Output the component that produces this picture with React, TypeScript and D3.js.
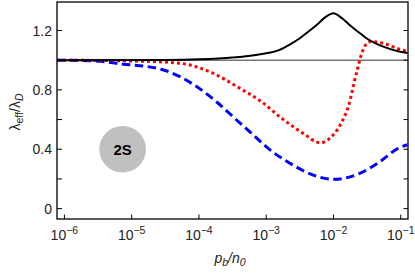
import * as d3 from "d3";

// exponents (log10 of p_b/n_0) and values
const blueExp = [-6.11, -5.65, -5.15, -4.55, -4.03, -3.74, -3.44, -3.19, -2.97, -2.6, -2.3, -2.0, -1.61, -1.31, -1.04, -0.9];
const blueVal = [1.0, 0.997, 0.975, 0.937, 0.821, 0.72, 0.597, 0.496, 0.406, 0.293, 0.226, 0.197, 0.237, 0.316, 0.406, 0.43];

const redExp = [-6.11, -5.0, -4.28, -3.79, -3.39, -3.07, -2.8, -2.45, -2.2, -2.03, -1.88, -1.78, -1.66, -1.56, -1.46, -1.26, -1.01, -0.9];
const redVal = [1.0, 0.995, 0.979, 0.912, 0.81, 0.72, 0.619, 0.507, 0.444, 0.484, 0.58, 0.686, 0.91, 1.069, 1.125, 1.114, 1.073, 1.06];

const blackExp = [-6.11, -4.5, -4.0, -3.5, -3.3, -3.09, -2.8, -2.65, -2.5, -2.38, -2.25, -2.12, -2.0, -1.88, -1.76, -1.63, -1.51, -1.38, -1.26, -1.01, -0.9];
const blackVal = [1.0, 1.002, 1.006, 1.018, 1.027, 1.04, 1.069, 1.105, 1.148, 1.19, 1.237, 1.29, 1.316, 1.285, 1.237, 1.19, 1.148, 1.115, 1.091, 1.057, 1.048];

const xTickExp = [-6, -5, -4, -3, -2, -1];
const yMajor = [0, 0.4, 0.8, 1.2];
const yMinor = [0.2, 0.6, 1.0];
const yTickLabels = ["0", "0.4", "0.8", "1.2"];

const label = { text: "2S", exp: -5.134, val: 0.4 };

const width = 415;
const height = 274;
const left = 57;
const right = 408;
const top = 2;
const bottom = 219;
const font = "'Liberation Sans', Arial, sans-serif";

export default function App() {
  const x = d3
    .scaleLog()
    .domain([Math.pow(10, -6.11), Math.pow(10, -0.892)])
    .range([left, right]);
  const y = d3.scaleLinear().domain([-0.07, 1.392]).range([bottom, top]);

  const line = d3
    .line<[number, number]>()
    .x((d) => x(Math.pow(10, d[0])))
    .y((d) => y(d[1]))
    .curve(d3.curveMonotoneX);

  const zip = (a: number[], b: number[]) => a.map((e, i) => [e, b[i]] as [number, number]);

  return (
    <svg
      width={width}
      height={height}
      style={{ position: "absolute", left: 0, top: 0, background: "#fff" }}
      fontFamily={font}
    >
      <defs>
        <clipPath id="plot">
          <rect x={left} y={top} width={right - left} height={bottom - top} />
        </clipPath>
      </defs>

      {/* reference line at 1 */}
      <line x1={left} x2={right} y1={y(1)} y2={y(1)} stroke="#333" strokeWidth={1} />

      <g clipPath="url(#plot)" fill="none">
        <path d={line(zip(blueExp, blueVal)) || ""} stroke="#0000ff" strokeWidth={3} strokeDasharray="8.5,4.5" />
        <path d={line(zip(redExp, redVal)) || ""} stroke="#ff0000" strokeWidth={3} strokeDasharray="3,3" />
        <path d={line(zip(blackExp, blackVal)) || ""} stroke="#000" strokeWidth={2} />
      </g>

      {/* annotation */}
      <circle cx={x(Math.pow(10, label.exp))} cy={y(label.val)} r={23.3} fill="#c0c0c0" />
      <text
        x={x(Math.pow(10, label.exp))}
        y={y(label.val)}
        dy="0.36em"
        textAnchor="middle"
        fontSize={15}
        fontWeight="bold"
      >
        {label.text}
      </text>

      {/* frame */}
      <rect x={left} y={top} width={right - left} height={bottom - top} fill="none" stroke="#000" strokeWidth={1.3} />

      {/* y ticks */}
      {yMajor.concat(yMinor).map((v) => (
        <g key={"yt" + v}>
          <line x1={left} x2={left + 5} y1={y(v)} y2={y(v)} stroke="#000" strokeWidth={1} />
          <line x1={right - 4.5} x2={right} y1={y(v)} y2={y(v)} stroke="#000" strokeWidth={1} />
        </g>
      ))}
      {yMajor.map((v, i) => (
        <text key={"yl" + v} x={52} y={y(v)} dy="0.36em" textAnchor="end" fontSize={14} fill="#222">
          {yTickLabels[i]}
        </text>
      ))}

      {/* x ticks */}
      {xTickExp.map((e) => (
        <g key={"xt" + e}>
          <line x1={x(Math.pow(10, e))} x2={x(Math.pow(10, e))} y1={bottom} y2={bottom - 4.5} stroke="#000" strokeWidth={1} />
          <text x={x(Math.pow(10, e))} y={240} textAnchor="middle" fontSize={14} fill="#222">
            10
            <tspan dy={-6} fontSize={10.5}>
              {"\u2212" + Math.abs(e)}
            </tspan>
          </text>
        </g>
      ))}

      {/* axis labels */}
      <text x={230} y={263} textAnchor="middle" fontSize={14} fontStyle="italic" fill="#222">
        p
        <tspan dy={3} fontSize={10.5}>b</tspan>
        <tspan dy={-3}>/n</tspan>
        <tspan dy={3} fontSize={10.5}>0</tspan>
      </text>
      <text transform="translate(20,112) rotate(-90)" textAnchor="middle" fontSize={14} fill="#222">
        λ
        <tspan dy={3} fontSize={10.5}>eff</tspan>
        <tspan dy={-3}>/λ</tspan>
        <tspan dy={3} fontSize={10.5} fontStyle="italic">D</tspan>
      </text>
    </svg>
  );
}
